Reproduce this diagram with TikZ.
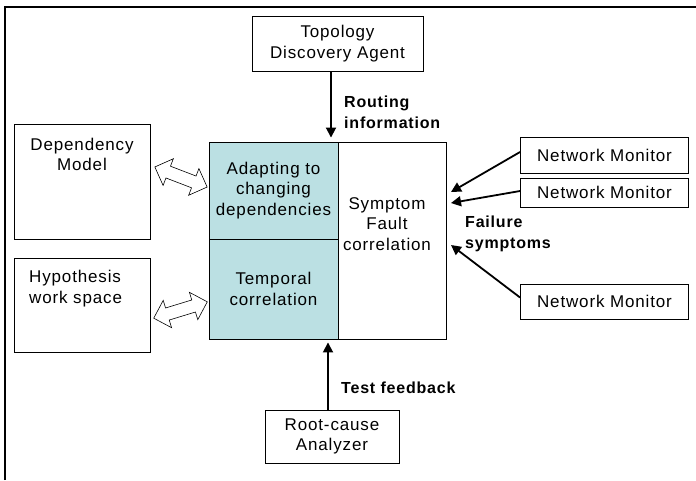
\documentclass[tikz,border=0pt]{standalone}
\usepackage{fontspec}
\setmainfont{Liberation Sans}[LetterSpace=5]
\usetikzlibrary{arrows.meta,shapes.arrows}

\begin{document}
\begin{tikzpicture}[x=1pt,y=-1pt,
    box/.style={draw=black, line width=0.9pt, inner sep=0pt, align=center, font=\fontsize{17}{20.5}\selectfont},
    txt/.style={inner sep=0pt, align=center, font=\fontsize{17}{20.5}\selectfont},
    lbl/.style={inner sep=0pt, align=left, anchor=west, font=\bfseries\fontsize{16}{21}\selectfont},
    flow/.style={line width=1.8pt, -{Triangle[length=10pt,width=10pt]}},
    swap/.style={double arrow, draw=black, line width=0.6pt, minimum height=56pt, inner xsep=0pt, inner ysep=6pt, double arrow head extend=8pt}]

    % Define the colors
    \definecolor{cellcolor}{RGB}{187, 224, 227}

    \useasboundingbox (0,0) rectangle (696,480);

    % Draw the frame
    \draw[line width=2pt] (5,480) -- (5,7) -- (696,7);

    % Draw the Topology Discovery Agent
    \node[box, minimum width=171pt, minimum height=55pt] (topo) at (337.5,43.5) {Topology\\Discovery Agent};

    % Draw the correlation block
    \node[box, fill=cellcolor, minimum width=129pt, minimum height=97pt] (adapt) at (273.5,190.5) {Adapting to\\changing\\dependencies};
    \node[box, fill=cellcolor, minimum width=129pt, minimum height=100pt] (temporal) at (273.5,289) {Temporal\\correlation};
    \node[box, minimum width=108pt, minimum height=197pt] (symptom) at (392,240.5) {};
    \node[txt] (symptomtxt) at (387,224) {Symptom\\Fault\\correlation};

    % Draw the left boxes
    \node[box, minimum width=136pt, minimum height=115pt] (dep) at (82,181.5) {};
    \node[txt] (deptxt) at (82,154.5) {Dependency\\Model};
    \node[box, minimum width=136pt, minimum height=94pt] (hyp) at (82,305) {};
    \node[txt, align=left, anchor=west] (hyptxt) at (29,288.5) {Hypothesis\\work space};

    % Draw the double arrows
    \node[swap, rotate=-21] (swapdep) at (181,177) {};
    \node[swap, rotate=17] (swaphyp) at (180.5,310) {};

    % Draw the Network Monitors
    \node[box, minimum width=168pt, minimum height=36pt] (mon1) at (604.5,155) {Network Monitor};
    \node[box, minimum width=168pt, minimum height=29pt] (mon2) at (604.5,192.5) {Network Monitor};
    \node[box, minimum width=168pt, minimum height=35pt] (mon3) at (604.5,301.5) {Network Monitor};

    % Draw the Root-cause Analyzer
    \node[box, minimum width=134pt, minimum height=53pt] (root) at (332,436.5) {Root-cause\\Analyzer};

    % Draw the arrows
    \draw[flow, shorten >=4pt] ([xshift=-6.5pt]topo.south) -- ([xshift=-6.5pt]topo.south |- adapt.north);
    \draw[flow, shorten >=3pt] ([xshift=-4pt]root.north) -- ([xshift=-4pt]root.north |- temporal.south);

    \coordinate (in1) at (451,192);
    \coordinate (in2) at (451,203);
    \coordinate (in3) at (451,245);
    \draw[flow] ([yshift=3pt]mon1.west) -- (in1);
    \draw[flow] ([yshift=1.5pt]mon2.west) -- (in2);
    \draw[flow] ([yshift=4pt]mon3.west) -- (in3);

    % Draw the labels
    \node[lbl] (routing) at (344,112.5) {Routing\\information};
    \node[lbl] (failure) at (465,233.5) {Failure\\symptoms};
    \node[lbl] (test) at (341,388) {Test feedback};

\end{tikzpicture}
\end{document}
